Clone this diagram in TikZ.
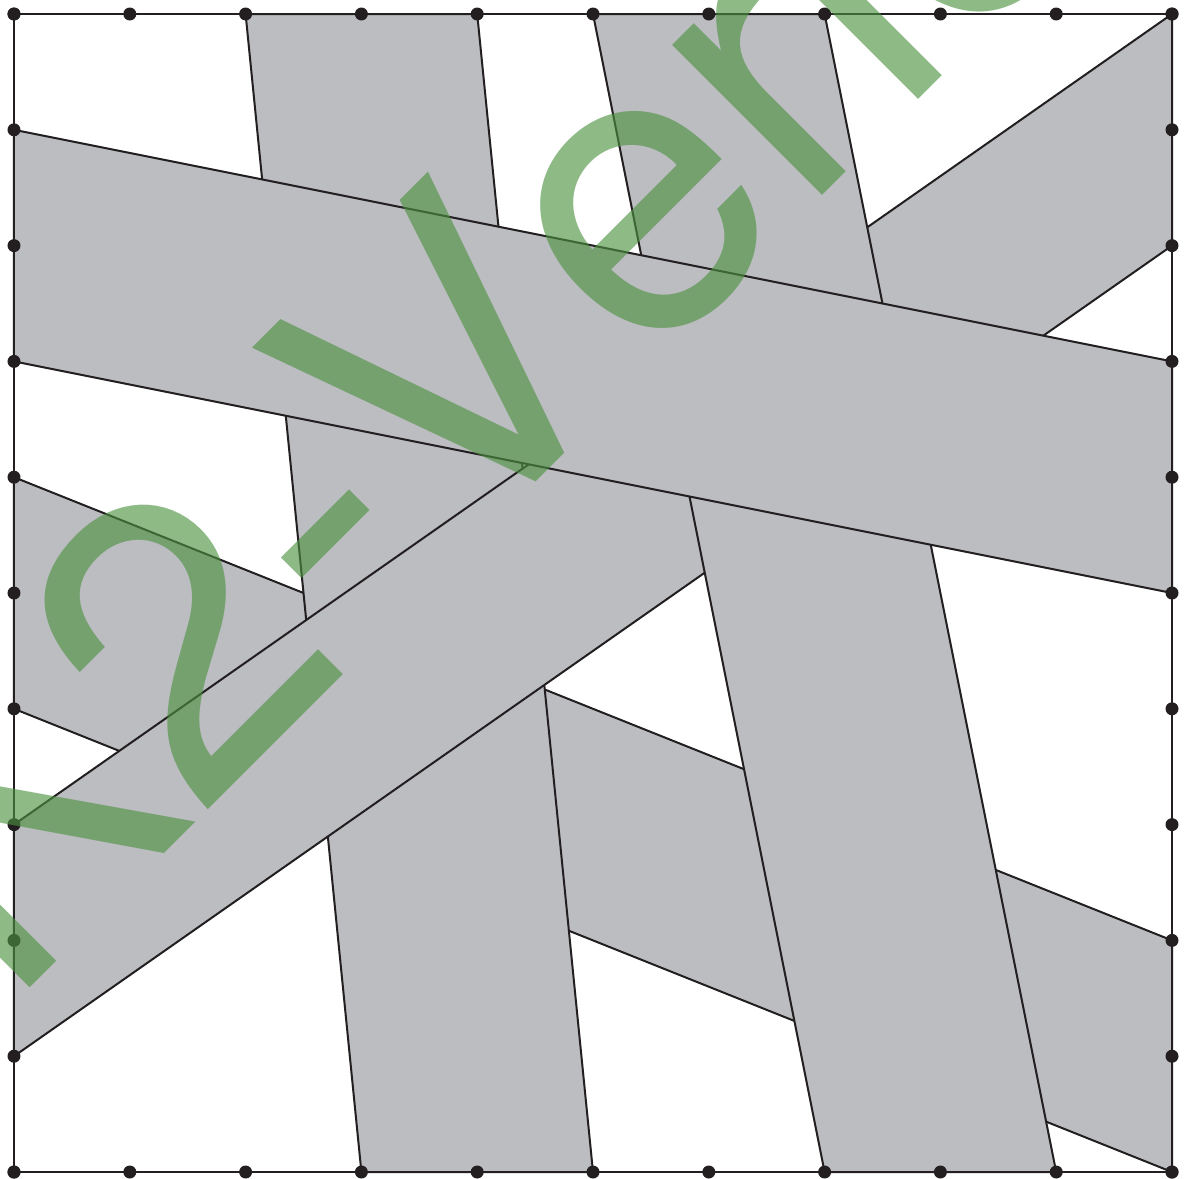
\documentclass[tikz,border=0pt]{standalone}
\usepackage{fontspec}
\newfontfamily\wmfont[Kerning=Off]{TeX Gyre Heros}
\definecolor{bandgray}{HTML}{BCBDC1}
\definecolor{inkline}{HTML}{231F20}
\definecolor{wmgreen}{RGB}{76,145,64}
\tikzset{
  band/.style={fill=bandgray, draw=inkline, line width=2pt, line join=miter},
  frame/.style={draw=inkline, line width=2.4pt},
  griddot/.style={fill=inkline},
  watermark/.style={rotate=45, anchor=base west, inner sep=0pt, text=wmgreen, text opacity=0.63, font=\wmfont\fontsize{405pt}{405pt}\selectfont}
}
\begin{document}
\begin{tikzpicture}
\useasboundingbox (0pt,0pt) rectangle (1186pt,-1178pt);
\begin{scope}[x=115.8pt, y=-115.8pt, shift={(0.12090,0.12090)}]
  % bands, bottom to top
  \path[band] (0,4) -- (10,8) -- (10,10) -- (0,6) -- cycle;   % D
  \path[band] (2,0) -- (4,0) -- (5,10) -- (3,10) -- cycle;    % A
  \path[band] (10,0) -- (10,2) -- (0,9) -- (0,7) -- cycle;    % E
  \path[band] (5,0) -- (7,0) -- (9,10) -- (7,10) -- cycle;    % B
  \path[band] (0,1) -- (10,3) -- (10,5) -- (0,3) -- cycle;    % C
  % frame
  \draw[frame] (0,0) rectangle (10,10);
  % dots
  \foreach \k in {0,...,10} {
    \fill[griddot] (\k,0) circle (6.5pt);
    \fill[griddot] (\k,10) circle (6.5pt);
    \fill[griddot] (0,\k) circle (6.5pt);
    \fill[griddot] (10,\k) circle (6.5pt);
  }
\end{scope}
\begin{scope}
  \clip (0pt,0pt) rectangle (1186pt,-1178pt);
  \node[watermark] (wm) at (7pt,-1011pt) {K2-Verio};
\end{scope}
\end{tikzpicture}
\end{document}
